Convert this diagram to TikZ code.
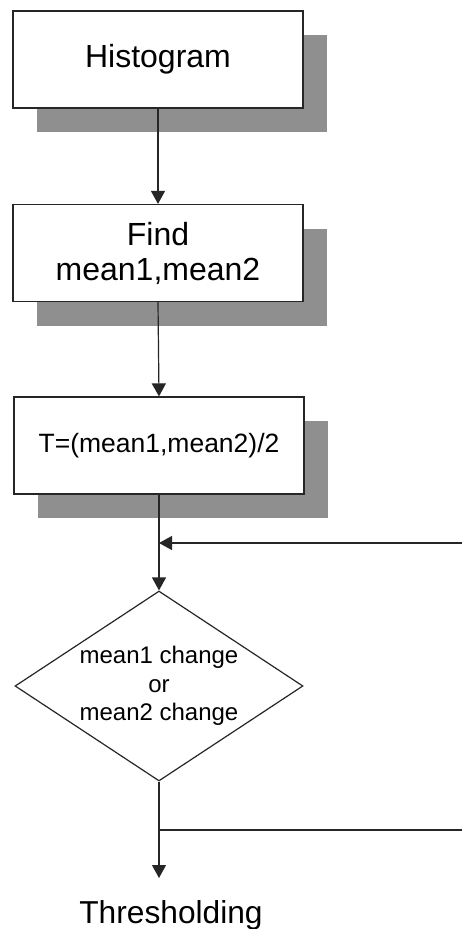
\documentclass[tikz,border=0pt]{standalone}
\usepackage{fontspec}
\setmainfont{Liberation Sans}
\usetikzlibrary{arrows.meta,shapes.geometric,shadows}
\begin{document}
\begin{tikzpicture}[x=1pt,y=-1pt,
  stepbox/.style={draw=black!85, line width=1.2pt, fill=white, rectangle,
    minimum width=290pt, minimum height=97pt, inner sep=0pt, align=center,
    drop shadow={shadow xshift=24pt, shadow yshift=-24pt, fill=black!44, opacity=1}},
  decision/.style={draw=black!85, line width=1.2pt, diamond, aspect=1.516, fill=white,
    minimum width=288pt, minimum height=190pt, inner sep=-10pt, align=center,
    font=\fontsize{24}{28.5}\selectfont},
  conn/.style={draw=black!85, line width=1.2pt},
  arr/.style={conn, -{Triangle[length=13pt,width=14pt]}}]
\useasboundingbox (0,0) rectangle (462,929);
\fill[white] (0,0) rectangle (462,929);

\node[stepbox, font=\fontsize{32}{34}\selectfont] (hist) at (158,59.5) {Histogram};
\node[stepbox, font=\fontsize{32}{35}\selectfont] (find) at (158,253) {Find\\mean1,mean2};
\node[stepbox, font=\fontsize{26.5}{30}\selectfont] (tcalc) at (159,445.5) {T=(mean1,mean2)/2};
\node[decision] (dec) at (159,686) {mean1 change\\or\\mean2 change};
\node[anchor=base, font=\fontsize{31.7}{34}\selectfont, inner sep=0pt] (thr) at (171,923) {Thresholding};

\coordinate (fbin) at (462,543);
\coordinate (fbout) at (462,830);
\coordinate (thrtip) at (159,878);

\draw[arr] (hist.south) -- (find.north);
\draw[arr] (find.south) -- (tcalc.north);
\draw[arr] (tcalc.south) -- (dec.north);
\draw[arr] (fbin) -- (tcalc.south |- fbin);
\draw[arr] (dec.south) -- (thrtip);
\draw[conn] (dec.south |- fbout) -- (fbout);
\end{tikzpicture}
\end{document}
